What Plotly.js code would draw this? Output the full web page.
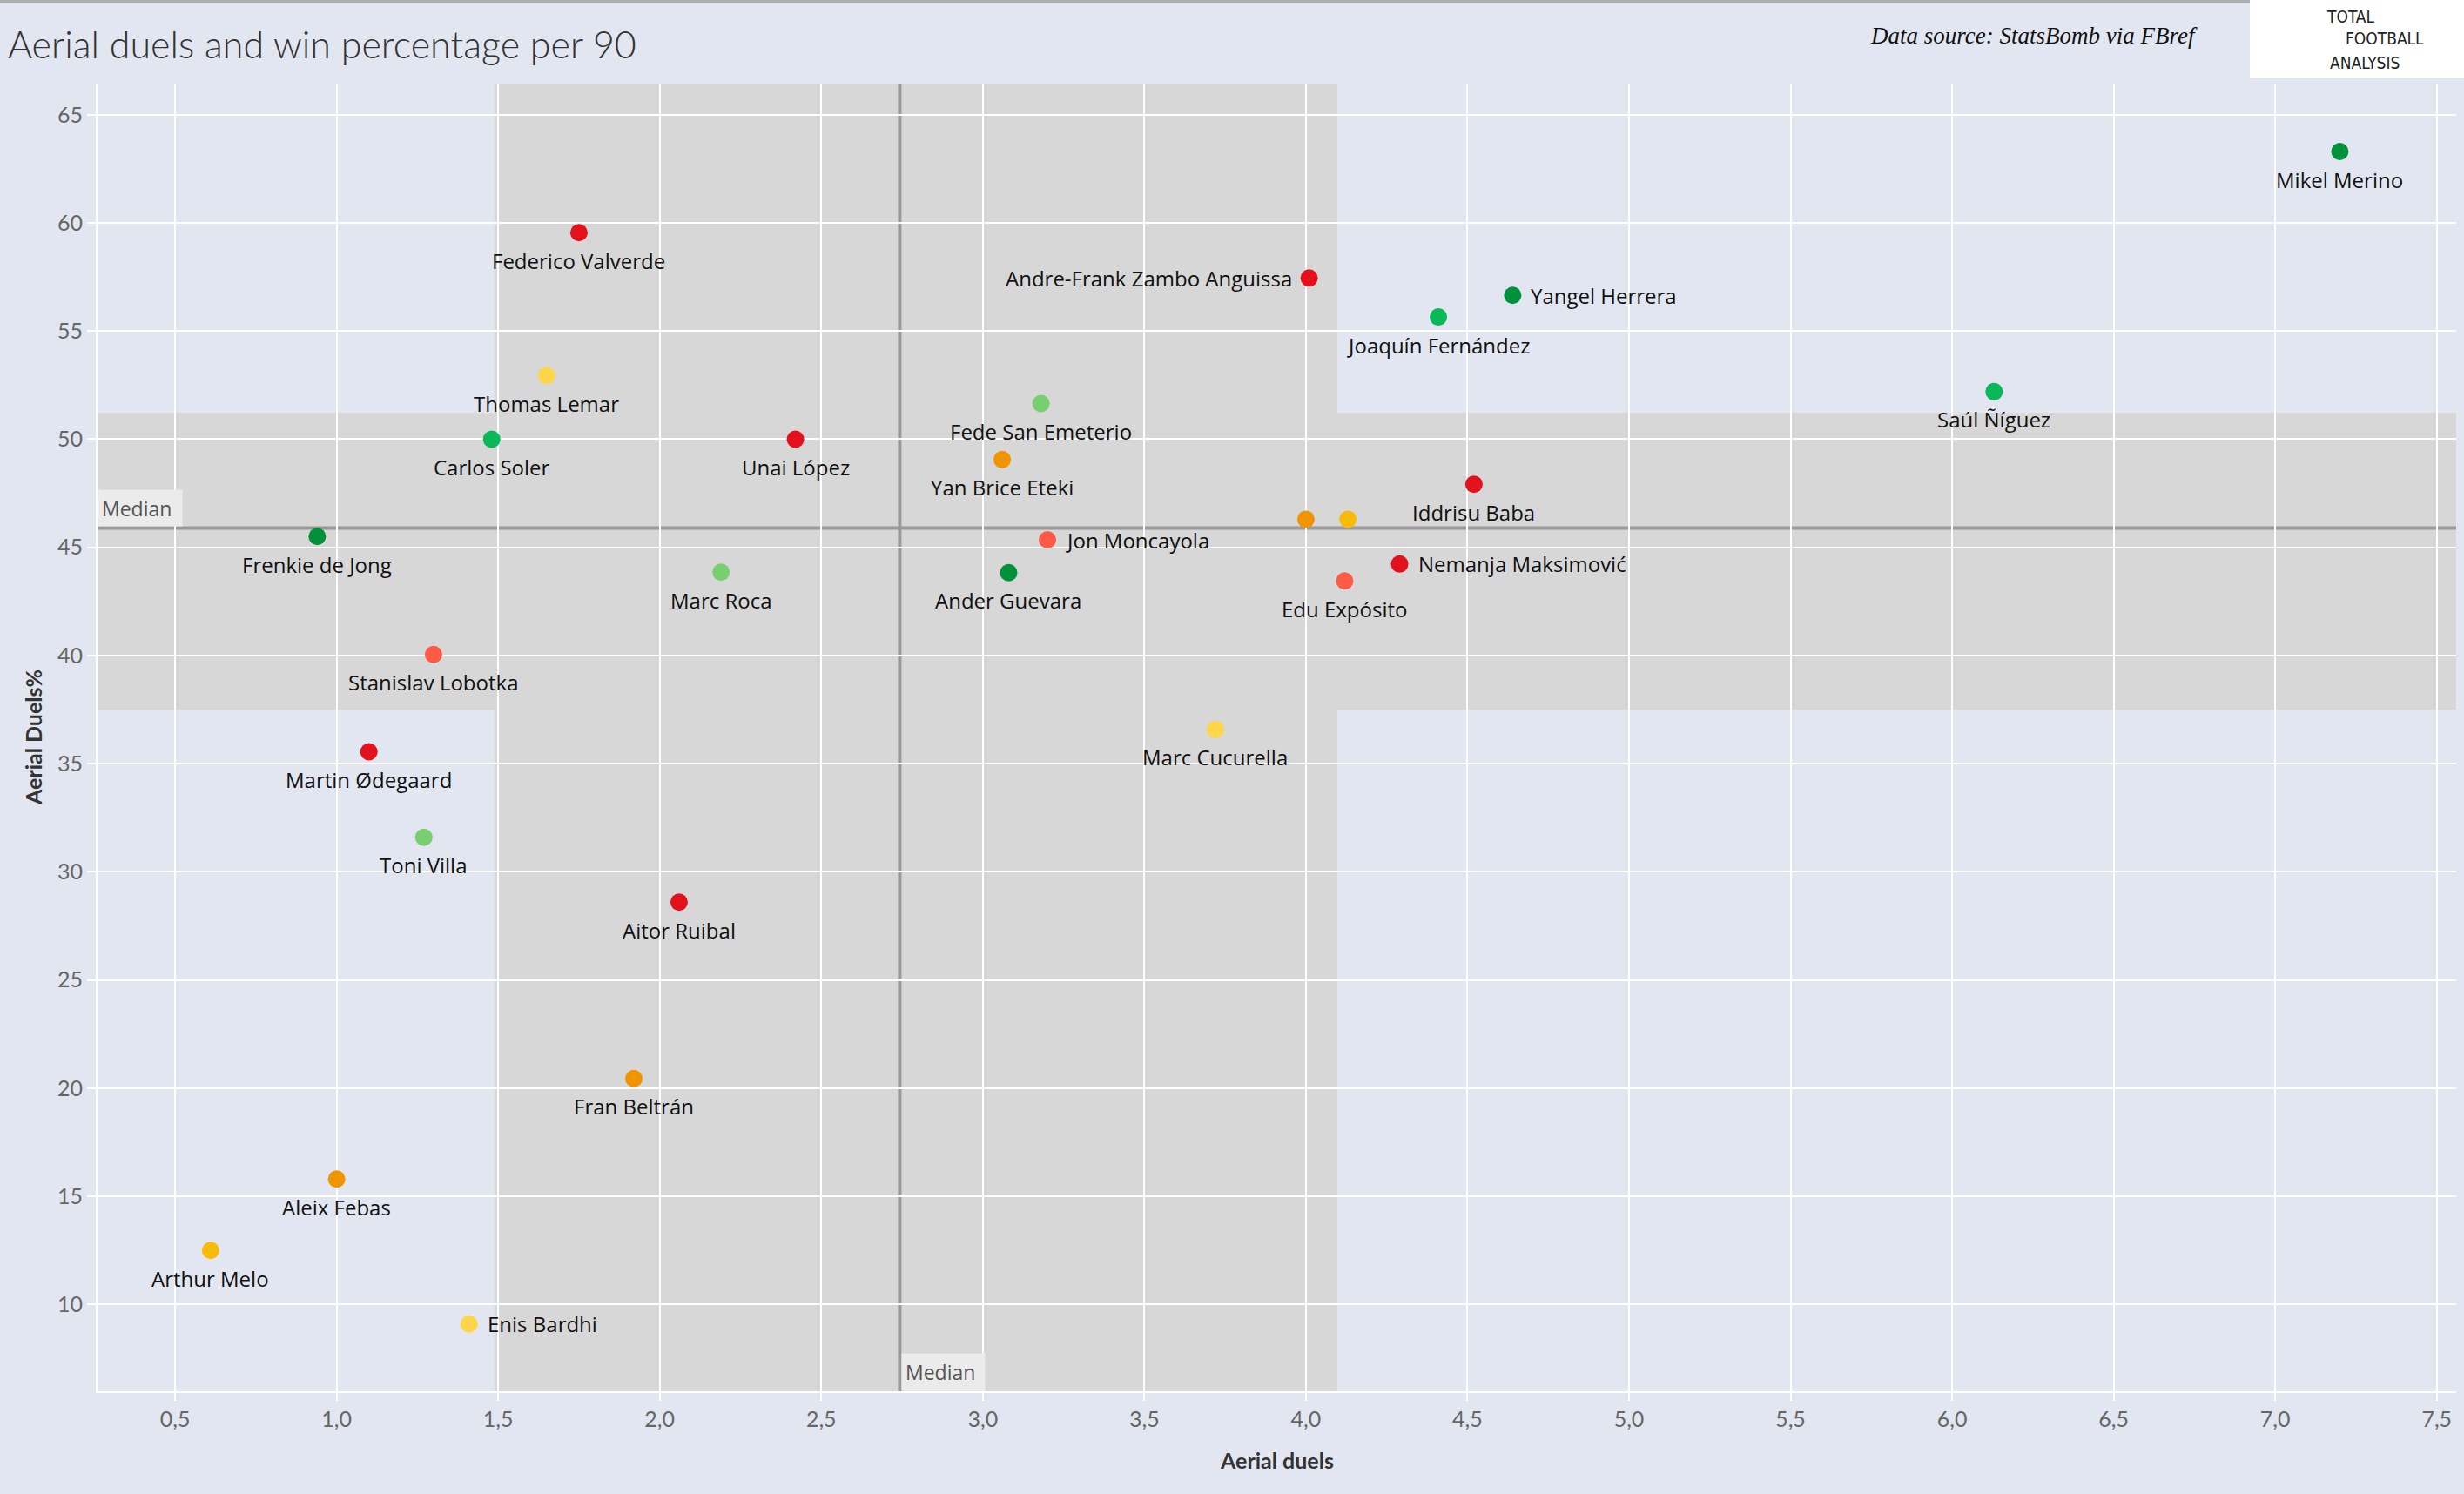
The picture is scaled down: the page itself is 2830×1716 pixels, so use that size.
<!DOCTYPE html>
<html>
<head>
<meta charset="utf-8">
<script src="https://cdn.plot.ly/plotly-3.0.1.min.js"></script>
<style>
  body { margin: 0; background: #e1e6f0; overflow: hidden; }
  #chart { width: 2830px; height: 1716px; }
</style>
</head>
<body>
<div id="chart"></div>
<script>
// players, aerial duels per 90 and aerial duel win %
var players = ["Mikel Merino", "Federico Valverde", "Andre-Frank Zambo Anguissa", "Yangel Herrera",
  "Joaquín Fernández", "Thomas Lemar", "Saúl Ñíguez", "Fede San Emeterio", "Carlos Soler",
  "Unai López", "Yan Brice Eteki", "Iddrisu Baba", "", "", "Frenkie de Jong", "Jon Moncayola",
  "Nemanja Maksimović", "Marc Roca", "Ander Guevara", "Edu Expósito", "Stanislav Lobotka",
  "Marc Cucurella", "Martin Ødegaard", "Toni Villa", "Aitor Ruibal", "Fran Beltrán",
  "Aleix Febas", "Arthur Melo", "Enis Bardhi"];
var aerialDuels = [7.20, 1.75, 4.01, 4.64, 4.41, 1.65, 6.13, 3.18, 1.48, 2.42, 3.06, 4.52, 4.00, 4.13,
  0.94, 3.20, 4.29, 2.19, 3.08, 4.12, 1.30, 3.72, 1.10, 1.27, 2.06, 1.92, 1.00, 0.61, 1.41];
var winPct = [63.3, 59.55, 57.45, 56.65, 55.65, 52.95, 52.2, 51.65, 50.0, 50.0, 49.06, 47.92, 46.3, 46.3,
  45.5, 45.35, 44.23, 43.85, 43.83, 43.45, 40.05, 36.58, 35.55, 31.6, 28.6, 20.45, 15.8, 12.5, 9.1];
var tier = ["darkgreen", "red", "red", "darkgreen", "green", "yellow", "green", "lightgreen", "green",
  "red", "orange", "red", "orange", "amber", "darkgreen", "orangered", "red", "lightgreen", "darkgreen",
  "orangered", "orangered", "yellow", "red", "lightgreen", "red", "orange", "orange", "amber", "yellow"];

var xTicks = [0.5, 1.0, 1.5, 2.0, 2.5, 3.0, 3.5, 4.0, 4.5, 5.0, 5.5, 6.0, 6.5, 7.0, 7.5];
var yTicks = [10, 15, 20, 25, 30, 35, 40, 45, 50, 55, 60, 65];

var medianDuels = 2.743;
var medianWin = 45.89;
var bandDuels = [1.488, 4.097];
var bandWin = [37.5, 51.22];

var rightLabels = ["Yangel Herrera", "Jon Moncayola", "Nemanja Maksimović", "Enis Bardhi"];
var leftLabels = ["Andre-Frank Zambo Anguissa"];

var palette = {
  red: "#e2111b", orangered: "#fd5b46", orange: "#f09400", amber: "#f8bb0a",
  yellow: "#ffd64a", lightgreen: "#78cf6f", green: "#0ab759", darkgreen: "#00913b"
};

var W = 2830, H = 1716;
var M = {l: 112, r: 9, t: 96, b: 118};
// pixel -> paper helpers for the decorations outside the plot
function px(x) { return (x - M.l) / (W - M.l - M.r); }
function py(y) { return (H - M.b - y) / (H - M.t - M.b); }

var labelFont = {family: "Open Sans, sans-serif", size: 24, color: "#111"};
var medianFont = {family: "Open Sans, sans-serif", size: 23, color: "#555"};
var logoFont = {family: "Liberation Sans Narrow, DejaVu Sans Condensed, sans-serif", size: 19, color: "#222"};

var trace = {
  x: aerialDuels,
  y: winPct,
  text: players,
  mode: "markers",
  type: "scatter",
  marker: {size: 20, color: tier.map(function (t) { return palette[t]; }), line: {width: 0}},
  hoverinfo: "text",
  cliponaxis: false
};

// point labels, placed the way the original does it
var labels = [];
players.forEach(function (p, i) {
  if (!p) return;
  var a = {text: p, x: aerialDuels[i], y: winPct[i], xref: "x", yref: "y", showarrow: false,
    font: labelFont, yanchor: "middle"};
  if (rightLabels.indexOf(p) >= 0) { a.xanchor = "left"; a.xshift = 19; }
  else if (leftLabels.indexOf(p) >= 0) { a.xanchor = "right"; a.xshift = -18; }
  else { a.xanchor = "center"; a.yshift = -32; }
  labels.push(a);
});

var grey = "#d7d7d7";
var layout = {
  width: W, height: H,
  margin: M,
  paper_bgcolor: "#e1e6f0",
  plot_bgcolor: "#e1e6f0",
  separators: ",.",
  showlegend: false,
  font: {family: "Lato, sans-serif"},
  title: {
    text: "Aerial duels and win percentage per 90",
    font: {family: "Lato, sans-serif", size: 43, color: "#333", weight: 300},
    xref: "container", yref: "container",
    x: 9 / W, xanchor: "left", y: 1 - 52 / H, yanchor: "middle"
  },
  xaxis: {
    range: [0.26, 7.56],
    tickvals: xTicks,
    tickformat: ".1f",
    showgrid: true, gridcolor: "#ffffff", gridwidth: 2,
    zeroline: false,
    showline: true, linecolor: "#ffffff", linewidth: 2,
    ticks: "outside", ticklen: 9, tickwidth: 2, tickcolor: "#ffffff",
    tickfont: {family: "Lato, sans-serif", size: 25, color: "#666"}
  },
  yaxis: {
    range: [5.99, 66.44],
    tickvals: yTicks,
    showgrid: true, gridcolor: "#ffffff", gridwidth: 2,
    zeroline: false,
    showline: true, linecolor: "#ffffff", linewidth: 2,
    ticks: "outside", ticklen: 10, tickwidth: 2, tickcolor: "#ffffff",
    tickfont: {family: "Lato, sans-serif", size: 25, color: "#666"}
  },
  shapes: [
    {type: "rect", layer: "below", xref: "x", yref: "paper", x0: bandDuels[0], x1: bandDuels[1], y0: 0, y1: 1,
      fillcolor: grey, line: {width: 0}},
    {type: "rect", layer: "below", xref: "paper", yref: "y", x0: 0, x1: 1, y0: bandWin[0], y1: bandWin[1],
      fillcolor: grey, line: {width: 0}},
    {type: "line", layer: "between", xref: "x", yref: "paper", x0: medianDuels, x1: medianDuels, y0: 0, y1: 1,
      line: {color: "#999999", width: 4}},
    {type: "line", layer: "between", xref: "paper", yref: "y", x0: 0, x1: 1, y0: medianWin, y1: medianWin,
      line: {color: "#999999", width: 4}},
    // top border of the sheet
    {type: "rect", xref: "paper", yref: "paper", x0: px(0), x1: px(W), y0: py(3), y1: py(0),
      fillcolor: "#aeaeae", line: {width: 0}},
    // logo box
    {type: "rect", xref: "paper", yref: "paper", x0: px(2584), x1: px(W), y0: py(90), y1: py(0),
      fillcolor: "#ffffff", line: {width: 0}}
  ],
  annotations: labels.concat([
    {text: "Median", xref: "paper", yref: "y", x: 0, y: medianWin, xanchor: "left", yanchor: "bottom",
      yshift: 2, showarrow: false, bgcolor: "#ebebeb", width: 88, height: 33, align: "left", borderpad: 4,
      font: medianFont},
    {text: "Median", xref: "x", yref: "paper", x: medianDuels, y: 0, xanchor: "left", yanchor: "bottom",
      xshift: 2, showarrow: false, bgcolor: "#ebebeb", width: 87, height: 34, align: "left", borderpad: 4,
      font: medianFont},
    {text: "Aerial duels", xref: "paper", yref: "paper", x: 0.5, y: 0, yanchor: "middle", yshift: -79,
      showarrow: false, font: {family: "Lato, sans-serif", size: 25, color: "#333", weight: 700}},
    {text: "Aerial Duels%", xref: "paper", yref: "paper", x: 0, y: 0.5, xanchor: "center", xshift: -74,
      textangle: -90, showarrow: false, font: {family: "Lato, sans-serif", size: 25, color: "#333", weight: 700}},
    {text: "<i>Data source: StatsBomb via FBref</i>", xref: "paper", yref: "paper", x: px(2336), y: py(41),
      xanchor: "center", yanchor: "middle", showarrow: false,
      font: {family: "Liberation Serif, serif", size: 27, color: "#111"}},
    {text: "TOTAL", xref: "paper", yref: "paper", x: px(2670), y: py(19), xanchor: "left", yanchor: "middle",
      showarrow: false, font: logoFont},
    {text: "FOOTBALL", xref: "paper", yref: "paper", x: px(2692), y: py(44), xanchor: "left", yanchor: "middle",
      showarrow: false, font: logoFont},
    {text: "ANALYSIS", xref: "paper", yref: "paper", x: px(2674), y: py(72), xanchor: "left", yanchor: "middle",
      showarrow: false, font: logoFont}
  ])
};

Plotly.newPlot("chart", [trace], layout, {displayModeBar: false, staticPlot: true});
</script>
</body>
</html>
